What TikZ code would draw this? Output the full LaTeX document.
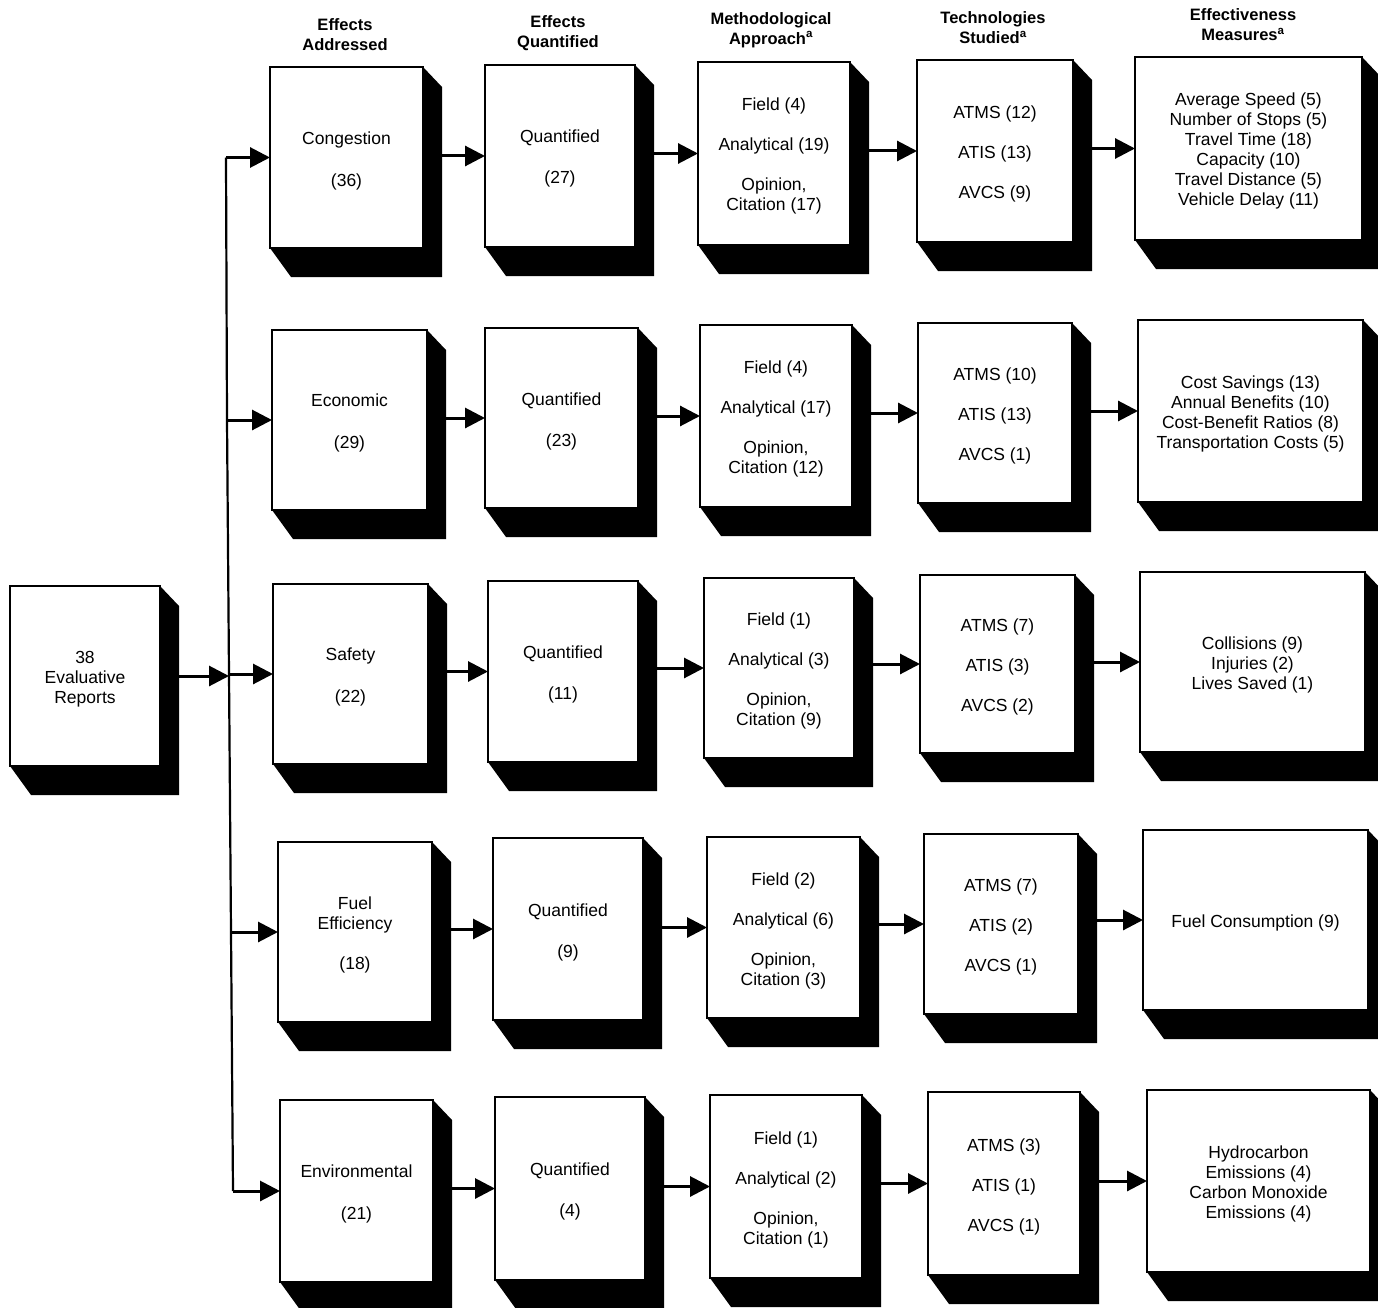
\documentclass[tikz,border=0pt]{standalone}
\usepackage{fontspec}
\setmainfont{Liberation Sans}
\usetikzlibrary{arrows.meta,calc}
\tikzset{
  bx/.style={draw=black, line width=2pt, fill=white, inner sep=0pt, outer sep=0pt,
    align=center, font=\fontsize{17.5}{20}\selectfont},
  hdr/.style={align=center, inner sep=0pt, font=\bfseries\fontsize{16.5}{20}\selectfont},
  arr/.style={line width=3pt, -{Triangle[length=20pt,width=20pt]}},
  trunkline/.style={line width=2.2pt},
}
\newcommand\myshadow[1]{%
  \fill[black] (#1.north east) -- ++(19,20) -- ([shift={(19,29)}]#1.south east)
    -- ([shift={(21,29)}]#1.south west) -- (#1.south west) -- (#1.south east) -- cycle;}
\newcommand\mybox[6]{%
  \node[bx, minimum width={#4-#2}, minimum height={#5-#3}] (#1)
    at ({(#2+#4)/2},{(#3+#5)/2}) {\raisebox{-3.5pt}[\height][\depth]{\begin{tabular}{@{}c@{}}#6\end{tabular}}};
  \myshadow{#1}}
\newcommand\linkarrow[2]{%
  \draw[arr] let \p1=(#1.east), \p2=(#2.west) in ({\x1+19pt},\y2) -- (\p2);}
\begin{document}
\begin{tikzpicture}[x=1pt,y=-1pt]
\clip (0,0) rectangle (1378,1308);
\fill[white] (0,0) rectangle (1378,1308);

% headers
\node[hdr] (h1) at (345,35) {Effects\\Addressed};
\node[hdr] (h2) at (558,33) {Effects\\Quantified};
\node[hdr] (h3) at (771,30) {Methodological\\Approach\textsuperscript{a}};
\node[hdr] (h4) at (993,28) {Technologies\\Studied\textsuperscript{a}};
\node[hdr] (h5) at (1243,25) {Effectiveness\\Measures\textsuperscript{a}};

% source
\mybox{src}{10}{586}{160}{766}{38\\Evaluative\\Reports}

% column 1
\mybox{a1}{270}{67}{423}{248}{Congestion\\[22pt](36)}
\mybox{a2}{272}{330}{427}{510}{Economic\\[22pt](29)}
\mybox{a3}{273}{584}{428}{764}{Safety\\[22pt](22)}
\mybox{a4}{278}{842}{432}{1022}{Fuel\\Efficiency\\[20pt](18)}
\mybox{a5}{280}{1100}{433}{1282}{Environmental\\[22pt](21)}

% column 2
\mybox{b1}{485}{65}{635}{247}{Quantified\\[21pt](27)}
\mybox{b2}{485}{328}{638}{508}{Quantified\\[21pt](23)}
\mybox{b3}{488}{581}{638}{762}{Quantified\\[21pt](11)}
\mybox{b4}{493}{838}{643}{1020}{Quantified\\[21pt](9)}
\mybox{b5}{495}{1097}{645}{1280}{Quantified\\[21pt](4)}

% column 3
\mybox{c1}{698}{62}{850}{245}{Field (4)\\[20pt]Analytical (19)\\[20pt]Opinion,\\Citation (17)}
\mybox{c2}{700}{325}{852}{507}{Field (4)\\[20pt]Analytical (17)\\[20pt]Opinion,\\Citation (12)}
\mybox{c3}{704}{578}{854}{758}{Field (1)\\[20pt]Analytical (3)\\[20pt]Opinion,\\Citation (9)}
\mybox{c4}{707}{837}{860}{1018}{Field (2)\\[20pt]Analytical (6)\\[20pt]Opinion,\\Citation (3)}
\mybox{c5}{710}{1095}{862}{1278}{Field (1)\\[20pt]Analytical (2)\\[20pt]Opinion,\\Citation (1)}

% column 4
\mybox{d1}{917}{60}{1073}{242}{ATMS (12)\\[20pt]ATIS (13)\\[20pt]AVCS (9)}
\mybox{d2}{918}{323}{1072}{503}{ATMS (10)\\[20pt]ATIS (13)\\[20pt]AVCS (1)}
\mybox{d3}{920}{575}{1075}{753}{ATMS (7)\\[20pt]ATIS (3)\\[20pt]AVCS (2)}
\mybox{d4}{924}{834}{1078}{1014}{ATMS (7)\\[20pt]ATIS (2)\\[20pt]AVCS (1)}
\mybox{d5}{928}{1092}{1080}{1275}{ATMS (3)\\[20pt]ATIS (1)\\[20pt]AVCS (1)}

% column 5
\mybox{e1}{1135}{57}{1362}{240}{Average Speed (5)\\Number of Stops (5)\\Travel Time (18)\\Capacity (10)\\Travel Distance (5)\\Vehicle Delay (11)}
\mybox{e2}{1138}{320}{1363}{502}{Cost Savings (13)\\Annual Benefits (10)\\Cost-Benefit Ratios (8)\\Transportation Costs (5)}
\mybox{e3}{1140}{572}{1365}{752}{Collisions (9)\\Injuries (2)\\Lives Saved (1)}
\mybox{e4}{1143}{830}{1368}{1010}{Fuel Consumption (9)}
\mybox{e5}{1147}{1090}{1370}{1272}{Hydrocarbon\\Emissions (4)\\Carbon Monoxide\\Emissions (4)}

% trunk
\coordinate (t1) at (226,157.5);
\coordinate (t2) at (227,420);
\coordinate (t3) at (229,674);
\coordinate (t4) at (231,932);
\coordinate (t5) at (233,1191);
\draw[trunkline] (t1) -- (t2) -- (t3) -- (t4) -- (t5);
\draw[arr] let \p1=(src.east), \p2=(t3) in ({\x1+19pt},\y1) -- (\x2,\y1);
\foreach \i in {1,...,5}{
  \draw[arr] let \p1=(t\i), \p2=(a\i.west) in (\x1,\y2) -- (\p2);
  \linkarrow{a\i}{b\i}
  \linkarrow{b\i}{c\i}
  \linkarrow{c\i}{d\i}
  \linkarrow{d\i}{e\i}
}
\end{tikzpicture}
\end{document}
